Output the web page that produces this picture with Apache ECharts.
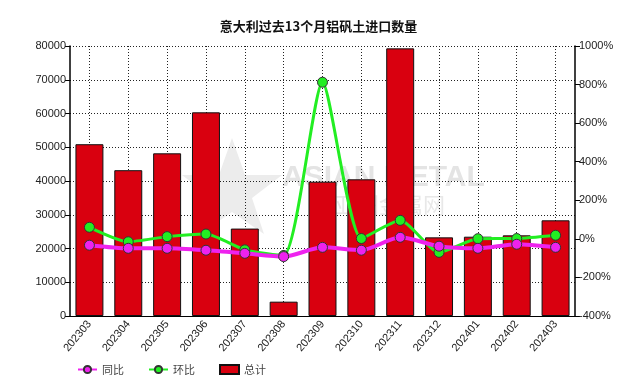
<!DOCTYPE html>
<html><head><meta charset="utf-8">
<script src="https://cdn.jsdelivr.net/npm/echarts@6/dist/echarts.min.js"></script>
<style>html,body{margin:0;padding:0;background:#fff}#c{width:637px;height:379px}</style>
</head><body><div id="c"></div>
<script>
const categories = ['202303','202304','202305','202306','202307','202308','202309','202310','202311','202312','202401','202402','202403'];
const totalValues = [50900, 43200, 48200, 60350, 25900, 4250, 39800, 40500, 79300, 23300, 23500, 23900, 28350];
const yoyValues = [-33, -49, -49, -59, -75, -92, -44, -59, 8, -38, -49, -28, -44];
const momValues = [60, -15, 11.6, 25, -57, -86, 812, 1.8, 96, -70, 0.9, 1.7, 18.6];
const leftTicks = [0, 80000, 10000];
const rightTicks = [-400, 1000, 200];

const font = 'Liberation Sans, Arial, sans-serif';
const chart = echarts.init(document.getElementById('c'), null, {renderer: 'canvas'});
chart.setOption({
  animation: false,
  backgroundColor: '#fff',
  title: {
    text: '意大利过去13个月铝矾土进口数量',
    left: 'center', top: 15,
    textStyle: {fontSize: 13, fontWeight: 'bold', color: '#111', fontFamily: 'Noto Sans CJK SC'}
  },
  graphic: [
    {type: 'text', left: 282, top: 163, z: 0, silent: true,
     style: {text: 'ASIAN METAL', fill: '#e4e4e4', font: 'bold 30px Liberation Sans'}},
    {type: 'text', left: 335, top: 194, z: 0, silent: true,
     style: {text: '亚洲金属网', fill: '#e8e8e8', font: '22px Noto Sans CJK SC'}},
    {type: 'polygon', z: 0, silent: true,
     shape: {points: [[232,138],[245,175],[282,175],[252,198],[264,234],[232,212],[200,234],[212,198],[182,175],[219,175]]},
     style: {fill: '#ececec'}}
  ],
  grid: {left: 70, right: 62, top: 46, bottom: 63},
  legend: {
    left: 72, top: 359,
    itemWidth: 19, itemHeight: 9, itemGap: 24,
    textStyle: {fontSize: 11, color: '#444', fontFamily: 'Noto Sans CJK SC'},
    data: [{name: '同比'}, {name: '环比'}, {name: '总计', icon: 'rect'}]
  },
  xAxis: {
    type: 'category', data: categories,
    axisLine: {lineStyle: {color: '#000', width: 1}},
    axisTick: {alignWithLabel: true, length: 4, lineStyle: {color: '#000'}},
    axisLabel: {rotate: 50, fontSize: 11, color: '#222', fontFamily: font, margin: 6},
    splitLine: {show: true, alignWithLabel: true, lineStyle: {color: '#222', type: [1, 2], width: 1}}
  },
  yAxis: [
    {
      type: 'value', min: leftTicks[0], max: leftTicks[1], interval: leftTicks[2],
      axisLine: {show: true, lineStyle: {color: '#000', width: 1.5}},
      axisTick: {show: true, length: 5, lineStyle: {color: '#000'}},
      axisLabel: {fontSize: 11, color: '#222', fontFamily: font, margin: 4, formatter: v => String(v)},
      splitLine: {show: true, lineStyle: {color: '#222', type: [1, 2], width: 1}}
    },
    {
      type: 'value', min: rightTicks[0], max: rightTicks[1], interval: rightTicks[2],
      axisLine: {show: true, lineStyle: {color: '#000', width: 1.5}},
      axisTick: {show: true, length: 5, lineStyle: {color: '#000'}},
      axisLabel: {fontSize: 11, color: '#222', fontFamily: font, margin: 4, formatter: v => v + '%'},
      splitLine: {show: false}
    }
  ],
  series: [
    {
      name: '总计', type: 'bar', yAxisIndex: 0, data: totalValues, barWidth: '72%',
      itemStyle: {color: '#d9000f', borderColor: '#111', borderWidth: 1}, z: 2
    },
    {
      name: '同比', type: 'line', yAxisIndex: 1, data: yoyValues, smooth: 0.25,
      symbol: 'circle', symbolSize: 10,
      lineStyle: {color: '#ee22ee', width: 4},
      itemStyle: {color: '#ee22ee', borderColor: '#333', borderWidth: 1}, z: 4
    },
    {
      name: '环比', type: 'line', yAxisIndex: 1, data: momValues, smooth: 0.2,
      symbol: 'circle', symbolSize: 10,
      lineStyle: {color: '#22ee22', width: 3},
      itemStyle: {color: '#22ee22', borderColor: '#333', borderWidth: 1}, z: 3
    }
  ]
});
</script></body></html>
